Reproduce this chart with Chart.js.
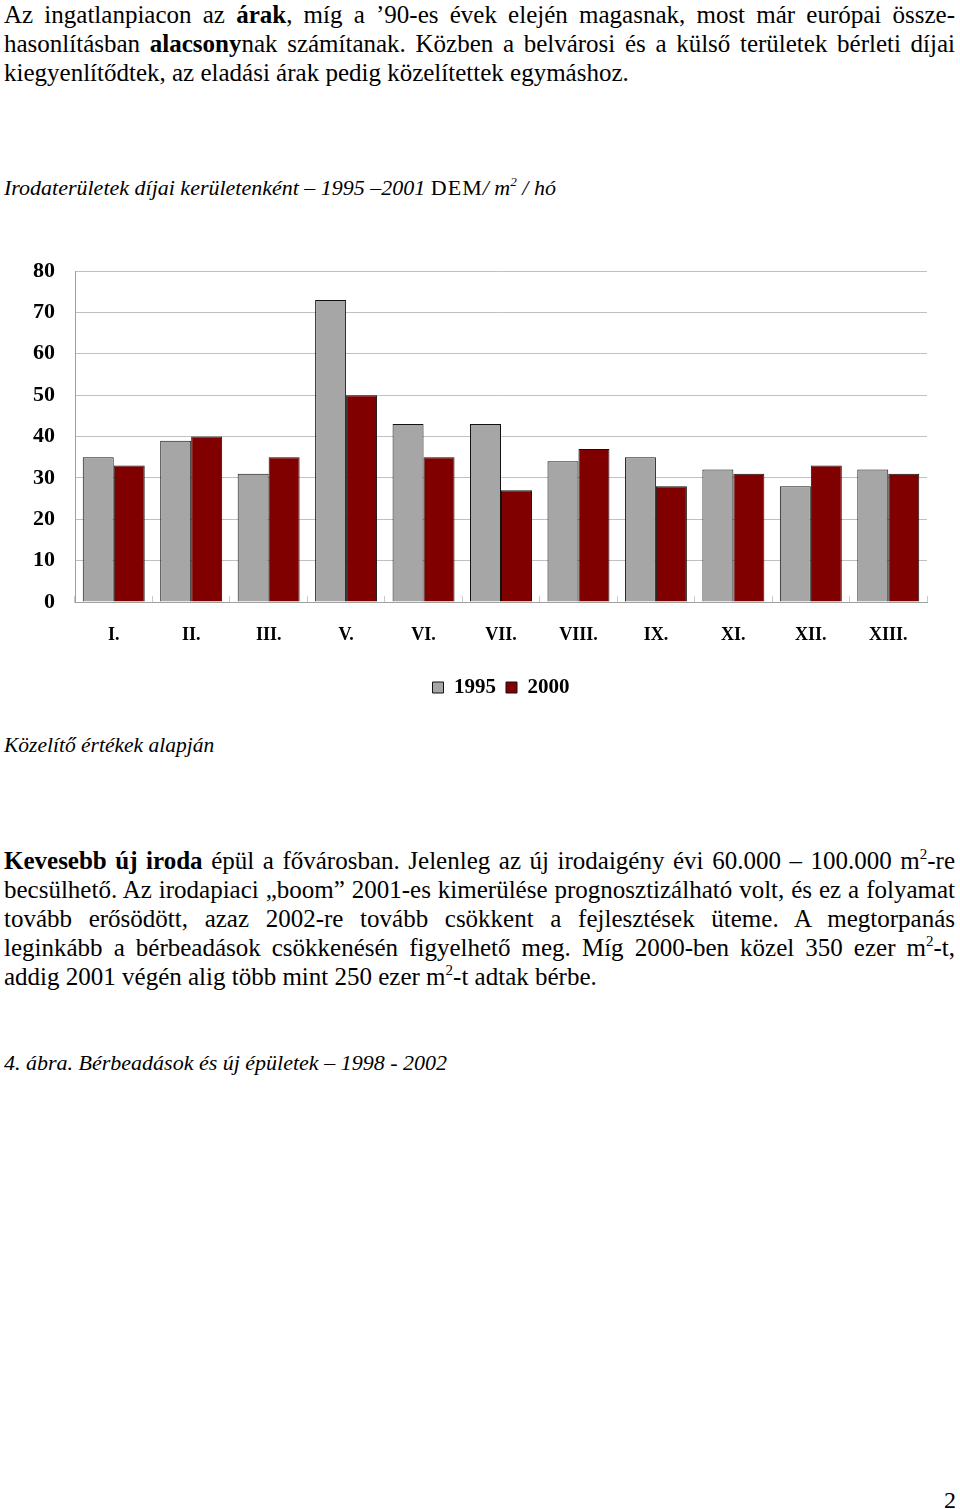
<!DOCTYPE html>
<html lang="hu">
<head>
<meta charset="utf-8">
<script src="https://cdn.jsdelivr.net/npm/chart.js@4/dist/chart.umd.min.js"></script>
<style>
  html, body { margin:0; padding:0; background:#fff; }
  body { width:960px; height:1509px; position:relative; overflow:hidden; font-family:"Liberation Serif","Times New Roman",serif; color:#000; }
  .blk { position:absolute; left:4px; width:951px; font-size:25px; line-height:29px; }
  .j { text-align:justify; text-align-last:justify; white-space:nowrap; }
  .l { text-align:left; white-space:nowrap; }
  .it { position:absolute; left:4px; font-style:italic; font-size:22px; line-height:29px; white-space:nowrap; }
  .up { font-style:normal; }
  sup { font-size:0.6em; line-height:0; vertical-align:0.65em; }
  #chartWrap { position:absolute; left:0; top:250px; width:998px; height:458px; }
</style>
</head>
<body>
<div class="blk" style="top:-0.5px">
  <div class="j">Az ingatlanpiacon az <b>árak</b>, míg a ’90-es évek elején magasnak, most már európai össze-</div>
  <div class="j">hasonlításban <b>alacsony</b>nak számítanak. Közben a belvárosi és a külső területek bérleti díjai</div>
  <div class="l">kiegyenlítődtek, az eladási árak pedig közelítettek egymáshoz.</div>
</div>

<div class="it" style="top:172.5px">Irodaterületek díjai kerületenként – 1995 –2001 <span class="up" style="letter-spacing:1px">DEM</span>/ m<sup>2</sup> / hó</div>

<div id="chartWrap"><canvas id="c"></canvas></div>

<div class="it" style="top:730.5px; font-size:21.5px">Közelítő értékek alapján</div>

<div class="blk" style="top:845.5px">
  <div class="j"><b>Kevesebb új iroda</b> épül a fővárosban. Jelenleg az új irodaigény évi 60.000 – 100.000 m<sup>2</sup>-re</div>
  <div class="j">becsülhető. Az irodapiaci „boom” 2001-es kimerülése prognosztizálható volt, és ez a folyamat</div>
  <div class="j">tovább erősödött, azaz 2002-re tovább csökkent a fejlesztések üteme. A megtorpanás</div>
  <div class="j">leginkább a bérbeadások csökkenésén figyelhető meg. Míg 2000-ben közel 350 ezer m<sup>2</sup>-t,</div>
  <div class="l">addig 2001 végén alig több mint 250 ezer m<sup>2</sup>-t adtak bérbe.</div>
</div>

<div class="it" style="top:1047.5px">4. ábra. Bérbeadások és új épületek – 1998 - 2002</div>

<div style="position:absolute; right:4px; top:1485.5px; font-size:24px; line-height:29px;">2</div>

<script>
const categories = ['I.', 'II.', 'III.', 'V.', 'VI.', 'VII.', 'VIII.', 'IX.', 'XI.', 'XII.', 'XIII.'];
const series1995 = [35, 39, 31, 73, 43, 43, 34, 35, 32, 28, 32];
const series2000 = [33, 40, 35, 50, 35, 27, 37, 28, 31, 33, 31];
const seriesLabels = ['1995', '2000'];
const yMin = 0, yMax = 80, yStep = 10;

const serif = "'Liberation Serif', 'Times New Roman', serif";

new Chart(document.getElementById('c'), {
  type: 'bar',
  data: {
    labels: categories,
    datasets: [
      { label: seriesLabels[0], data: series1995, backgroundColor: '#A6A6A6', borderColor: '#111', borderWidth: 1 },
      { label: seriesLabels[1], data: series2000, backgroundColor: '#800000', borderColor: '#111', borderWidth: 1 }
    ]
  },
  options: {
    responsive: true,
    maintainAspectRatio: false,
    animation: false,
    datasets: { bar: { barPercentage: 1.0, categoryPercentage: 0.8 } },
    layout: { padding: { top: 21, left: 0, right: 71, bottom: 0 } },
    plugins: {
      legend: {
        position: 'bottom',
        fullSize: false,
        labels: {
          boxWidth: 11, boxHeight: 11, padding: 10,
          color: '#000',
          font: { family: serif, size: 21, weight: 'bold' }
        }
      },
      tooltip: { enabled: false },
      title: { display: false }
    },
    scales: {
      x: {
        grid: { display: true, drawOnChartArea: false, drawTicks: true, tickLength: -6, color: '#c8c8c8', offset: true },
        border: { display: true, color: '#a0a0a0', width: 1 },
        ticks: { color: '#000', padding: 29, font: { family: serif, size: 18, weight: 'bold' }, maxRotation: 0, autoSkip: false },
        afterFit: (s) => { s.height = 65; }
      },
      y: {
        min: yMin, max: yMax,
        grid: { color: '#c0c0c0', lineWidth: 1, drawTicks: true, tickLength: 20, tickColor: 'rgba(0,0,0,0)' },
        border: { display: true, color: '#a0a0a0', width: 1 },
        ticks: { stepSize: yStep, color: '#000', padding: 0, font: { family: serif, size: 22, weight: 'bold' } },
        afterFit: (s) => { s.width = 75; }
      }
    }
  }
});
</script>
</body>
</html>
